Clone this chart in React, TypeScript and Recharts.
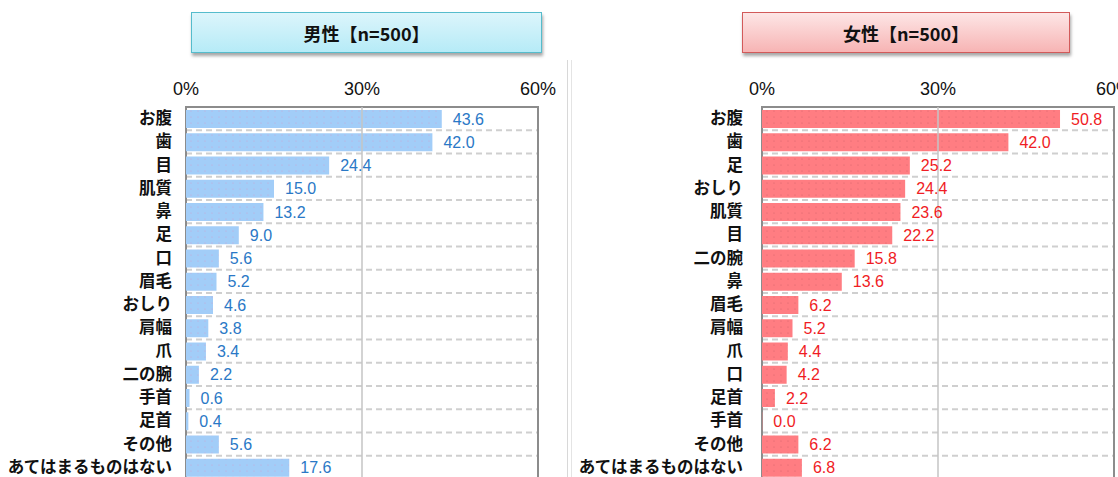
import React from "react";
import {
  BarChart,
  Bar,
  XAxis,
  YAxis,
  CartesianGrid,
  ReferenceLine,
  ReferenceArea,
  LabelList,
} from "recharts";

const maleCategories = [
  "お腹", "歯", "目", "肌質", "鼻", "足", "口", "眉毛",
  "おしり", "肩幅", "爪", "二の腕", "手首", "足首", "その他", "あてはまるものはない",
];
const maleValues = [43.6, 42.0, 24.4, 15.0, 13.2, 9.0, 5.6, 5.2, 4.6, 3.8, 3.4, 2.2, 0.6, 0.4, 5.6, 17.6];

const femaleCategories = [
  "お腹", "歯", "足", "おしり", "肌質", "目", "二の腕", "鼻",
  "眉毛", "肩幅", "爪", "口", "足首", "手首", "その他", "あてはまるものはない",
];
const femaleValues = [50.8, 42.0, 25.2, 24.4, 23.6, 22.2, 15.8, 13.6, 6.2, 5.2, 4.4, 4.2, 2.2, 0.0, 6.2, 6.8];

const xTicks = [0, 30, 60];

const JP = '"Noto Sans CJK JP", "Noto Sans", sans-serif';
const NUM = '"Liberation Sans", Arial, sans-serif';

const XTick = (props: any) => (
  <text x={props.x} y={95} textAnchor="middle" fontFamily={NUM} fontSize={18} fill="#111">
    {`${props.payload.value}%`}
  </text>
);

const makeYTick = (gap: number) => (props: any) => (
  <text
    x={props.x + 8 - gap}
    y={props.y + 5.5}
    textAnchor="end"
    fontFamily={JP}
    fontWeight={700}
    fontSize={16.5}
    fill="#111"
  >
    {props.payload.value}
  </text>
);

function Panel({
  categories,
  values,
  color,
  dot,
  labelColor,
  id,
  gap,
}: {
  categories: string[];
  values: number[];
  color: string;
  dot: string;
  labelColor: string;
  id: string;
  gap: number;
}) {
  const data = categories.map((name, i) => ({ name, value: values[i] }));
  const n = categories.length;
  return (
    <BarChart
      width={560}
      height={490}
      data={data}
      layout="vertical"
      margin={{ top: 77, right: 22, bottom: 11, left: 0 }}
      barCategoryGap={3}
    >
      <defs>
        <pattern id={id} width={7} height={6} patternUnits="userSpaceOnUse">
          <rect width={7} height={6} fill={color} />
          <circle cx={2} cy={3} r={0.6} fill={dot} />
        </pattern>
      </defs>
      <CartesianGrid
        vertical={false}
        stroke="#cfcfcf"
        strokeWidth={2}
        strokeDasharray="6 4"
        horizontalCoordinatesGenerator={({ offset }: any) =>
          Array.from({ length: n - 1 }, (_, i) => offset.top + (offset.height * (i + 1)) / n)
        }
      />
      <XAxis
        type="number"
        orientation="top"
        domain={[0, 60]}
        ticks={xTicks}
        height={30}
        axisLine={false}
        tickLine={false}
        tick={<XTick />}
        interval={0}
      />
      <YAxis
        type="category"
        dataKey="name"
        width={186}
        axisLine={false}
        tickLine={false}
        tick={makeYTick(gap)}
        interval={0}
      />
      <ReferenceLine x={30} stroke="#c4c4c4" strokeWidth={1.5} />
      <Bar
        dataKey="value"
        fill={`url(#${id})`}
        barSize={18}
        minPointSize={0.3}
        isAnimationActive={false}
      >
        <LabelList
          dataKey="value"
          position="right"
          offset={11}
          fill={labelColor}
          fontFamily={NUM}
          fontSize={16}
          formatter={(v: any) => Number(v).toFixed(1)}
        />
      </Bar>
      <ReferenceArea x1={0} x2={60} fill="none" stroke="#8c8c8c" strokeWidth={2} ifOverflow="visible" />
    </BarChart>
  );
}

const titleBase: React.CSSProperties = {
  position: "absolute",
  top: 12,
  height: 41,
  boxSizing: "border-box",
  display: "flex",
  alignItems: "center",
  justifyContent: "center",
  fontFamily: JP,
  fontWeight: 700,
  fontSize: 18,
  color: "#111",
  boxShadow: "1px 3px 3px rgba(0,0,0,0.35)",
};

export default function App() {
  return (
    <div
      style={{
        position: "absolute",
        left: 0,
        top: 0,
        width: 1118,
        height: 477,
        overflow: "hidden",
        background: "#fff",
      }}
    >
      <div
        style={{
          ...titleBase,
          left: 191,
          width: 351,
          border: "1px solid #55bccc",
          background: "linear-gradient(#dcf5fb, #b6ebf7)",
        }}
      >
        男性【n=500】
      </div>
      <div
        style={{
          ...titleBase,
          left: 742,
          width: 328,
          border: "1px solid #d25a5a",
          background: "linear-gradient(#fde6e6, #f7b4b4)",
        }}
      >
        女性【n=500】
      </div>
      <div style={{ position: "absolute", left: 567, top: 60, width: 1, height: 420, background: "#d8d8d8" }} />
      <div style={{ position: "absolute", left: 571, top: 60, width: 1, height: 420, background: "#e4e4e4" }} />
      <div style={{ position: "absolute", left: 0, top: 0 }}>
        <Panel
          categories={maleCategories}
          values={maleValues}
          color="#a2cdf8"
          dot="#c9a6d6"
          labelColor="#2a78c6"
          id="dotM"
          gap={14}
        />
      </div>
      <div style={{ position: "absolute", left: 576, top: 0 }}>
        <Panel
          categories={femaleCategories}
          values={femaleValues}
          color="#ff7d82"
          dot="#d8646a"
          labelColor="#f01c24"
          id="dotF"
          gap={19}
        />
      </div>
    </div>
  );
}
